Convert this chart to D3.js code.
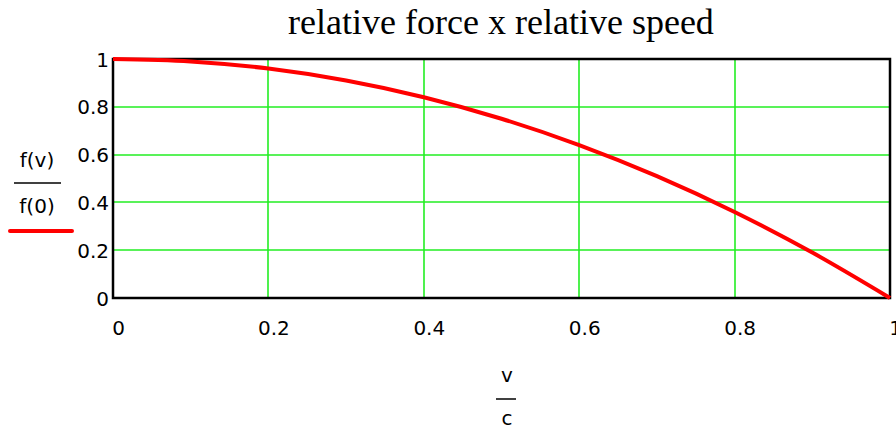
<!DOCTYPE html>
<html>
<head>
<meta charset="utf-8">
<script src="https://cdn.jsdelivr.net/npm/d3@7"></script>
<style>
  body { margin: 0; background: #fff; }
  .tick-label { font-family: 'DejaVu Sans', sans-serif; font-size: 20px; fill: #000; }
  .plot-title { font-family: 'Liberation Serif', 'Times New Roman', serif; font-size: 36px; fill: #000; }
</style>
</head>
<body>
<div id="chart"></div>
<script>
'use strict';

// relative speed v/c
var speeds = [0, 0.1, 0.2, 0.3, 0.4, 0.5, 0.6, 0.7, 0.8, 0.9, 1];
// relative force f(v)/f(0)
var forces = [1, 0.99, 0.96, 0.91, 0.84, 0.75, 0.64, 0.51, 0.36, 0.19, 0];

var xTicks = [0, 0.2, 0.4, 0.6, 0.8, 1];
var yTicks = [0, 0.2, 0.4, 0.6, 0.8, 1];
var title = 'relative force x relative speed';

var WIDTH = 896,
    HEIGHT = 429,
    plotLeft = 113,
    plotRight = 890,
    plotTop = 59,
    plotBottom = 298;

var svg = d3.select('#chart').append('svg')
    .attr('width', WIDTH)
    .attr('height', HEIGHT)
    .attr('viewBox', '0 0 ' + WIDTH + ' ' + HEIGHT);

var x = d3.scaleLinear().domain([0, 1]).range([plotLeft, plotRight]);
var y = d3.scaleLinear().domain([0, 1]).range([plotBottom, plotTop]);

// title
svg.append('text')
    .attr('class', 'plot-title')
    .attr('text-anchor', 'middle')
    .attr('x', 501)
    .attr('y', 34)
    .text(title);

// green grid
svg.append('g')
    .selectAll('line')
    .data(xTicks.slice(1, -1))
    .enter().append('line')
    .attr('x1', function (d) { return Math.round(x(d)); })
    .attr('x2', function (d) { return Math.round(x(d)); })
    .attr('y1', plotTop)
    .attr('y2', plotBottom)
    .attr('stroke', '#22ee22')
    .attr('stroke-width', 1.6);

svg.append('g')
    .selectAll('line')
    .data(yTicks.slice(1, -1))
    .enter().append('line')
    .attr('x1', plotLeft)
    .attr('x2', plotRight)
    .attr('y1', function (d) { return Math.round(y(d)); })
    .attr('y2', function (d) { return Math.round(y(d)); })
    .attr('stroke', '#22ee22')
    .attr('stroke-width', 1.6);

// frame
svg.append('rect')
    .attr('x', plotLeft)
    .attr('y', plotTop)
    .attr('width', plotRight - plotLeft)
    .attr('height', plotBottom - plotTop)
    .attr('fill', 'none')
    .attr('stroke', '#000')
    .attr('stroke-width', 2.5);

// axes (labels only, frame drawn above)
var xAxis = svg.append('g')
    .attr('transform', 'translate(0,' + plotBottom + ')')
    .call(d3.axisBottom(x).tickValues(xTicks).tickSize(0).tickPadding(0)
        .tickFormat(d3.format('')));
xAxis.select('.domain').remove();
xAxis.selectAll('.tick line').remove();
xAxis.selectAll('text')
    .attr('class', 'tick-label')
    .attr('font-family', null)
    .attr('font-size', null)
    .attr('dy', null)
    .attr('y', 37)
    .attr('dx', 5);

var yAxis = svg.append('g')
    .attr('transform', 'translate(' + plotLeft + ',0)')
    .call(d3.axisLeft(y).tickValues(yTicks).tickSize(0).tickPadding(0)
        .tickFormat(d3.format('')));
yAxis.select('.domain').remove();
yAxis.selectAll('.tick line').remove();
yAxis.selectAll('text')
    .attr('class', 'tick-label')
    .attr('font-family', null)
    .attr('font-size', null)
    .attr('dy', '0.35em')
    .attr('x', -4);

// y axis label as a fraction
svg.append('text')
    .attr('class', 'tick-label')
    .attr('text-anchor', 'middle')
    .attr('x', 37)
    .attr('y', 167)
    .text('f(v)');
svg.append('line')
    .attr('x1', 14).attr('x2', 61)
    .attr('y1', 183).attr('y2', 183)
    .attr('stroke', '#000').attr('stroke-width', 1.5);
svg.append('text')
    .attr('class', 'tick-label')
    .attr('text-anchor', 'middle')
    .attr('x', 37)
    .attr('y', 213)
    .text('f(0)');
// legend swatch
svg.append('line')
    .attr('x1', 10).attr('x2', 72)
    .attr('y1', 231).attr('y2', 231)
    .attr('stroke', '#ff0000').attr('stroke-width', 4)
    .attr('stroke-linecap', 'round');

// x axis label as a fraction
svg.append('text')
    .attr('class', 'tick-label')
    .attr('text-anchor', 'middle')
    .attr('x', 507)
    .attr('y', 382)
    .text('v');
svg.append('line')
    .attr('x1', 496).attr('x2', 516)
    .attr('y1', 399).attr('y2', 399)
    .attr('stroke', '#000').attr('stroke-width', 1.5);
svg.append('text')
    .attr('class', 'tick-label')
    .attr('text-anchor', 'middle')
    .attr('x', 507)
    .attr('y', 425)
    .text('c');

// curve
var line = d3.line()
    .x(function (d, i) { return x(speeds[i]); })
    .y(function (d) { return y(d); })
    .curve(d3.curveMonotoneX);

svg.append('path')
    .datum(forces)
    .attr('d', line)
    .attr('fill', 'none')
    .attr('stroke', '#ff0000')
    .attr('stroke-width', 4);
</script>
</body>
</html>
